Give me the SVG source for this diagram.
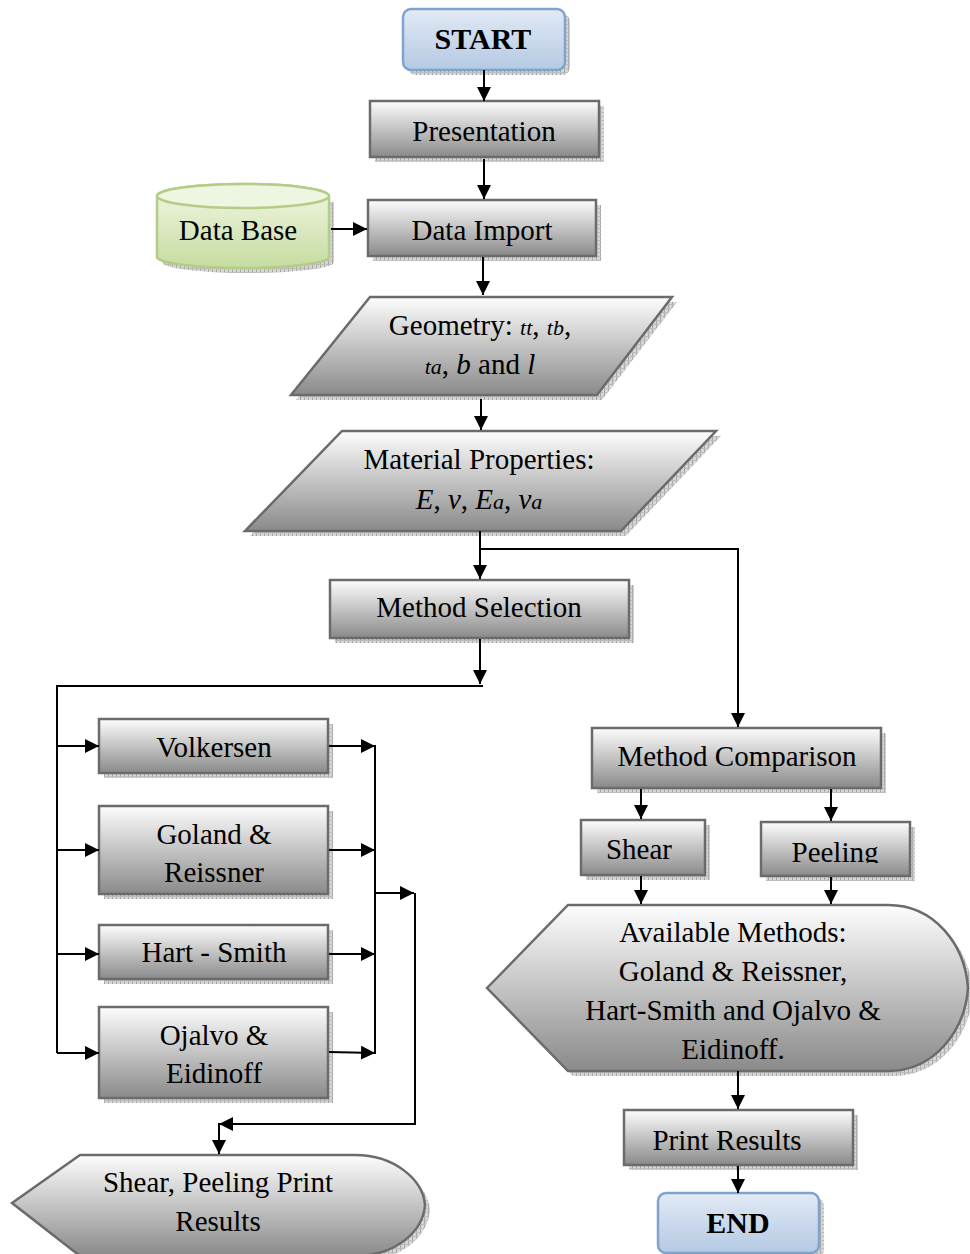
<svg xmlns="http://www.w3.org/2000/svg" width="970" height="1254" viewBox="0 0 970 1254">
<defs>
<linearGradient id="gGray" x1="0" y1="0" x2="0" y2="1">
<stop offset="0" stop-color="#fdfdfd"/><stop offset="1" stop-color="#8a8a8a"/>
</linearGradient>
<linearGradient id="gBlue" x1="0" y1="0" x2="0" y2="1">
<stop offset="0" stop-color="#e2eaf5"/><stop offset="1" stop-color="#b4c9e3"/>
</linearGradient>
<linearGradient id="gGreen" x1="0" y1="0" x2="0" y2="1">
<stop offset="0" stop-color="#f2f7e6"/><stop offset="1" stop-color="#c6dca0"/>
</linearGradient>
<pattern id="hatch" width="4" height="4" patternUnits="userSpaceOnUse">
<rect width="4" height="4" fill="#d6d6d6"/><rect width="1" height="4" fill="#a8a8a8"/><rect width="4" height="1" fill="#bdbdbd"/>
</pattern>
<marker id="ah" markerWidth="14" markerHeight="14" refX="14" refY="7" orient="auto" markerUnits="userSpaceOnUse">
<path d="M0,0 L14,7 L0,14 Z" fill="#000"/>
</marker>
<clipPath id="clipPeel"><rect x="761" y="822" width="150" height="41"/></clipPath>
</defs>
<style>
.box{fill:url(#gGray);stroke:#6b6b6b;stroke-width:2.5}
.term{fill:url(#gBlue);stroke:#7fa3cf;stroke-width:2.5}
.shd{fill:url(#hatch);stroke:none}
.t{font-family:"Liberation Serif","Times New Roman",serif;font-size:29px;fill:#000;text-anchor:middle}
.b{font-weight:bold;font-size:30px}
.i{font-style:italic}
.s{font-size:22px}
.c{fill:none;stroke:#000;stroke-width:2}
.a{marker-end:url(#ah)}
</style>

<g id="start">
<rect class="shd" x="408" y="14" width="162" height="61" rx="8"/>
<rect class="term" x="403" y="9" width="162" height="61" rx="8"/>
<text class="t b" x="483" y="49">START</text>
</g>

<g id="presentation">
<rect class="shd" x="375" y="106" width="229" height="56"/>
<rect class="box" x="370" y="101" width="229" height="56"/>
<text class="t" x="484" y="141">Presentation</text>
</g>

<g id="database">
<path class="shd" d="M162,202 L334,202 L334,262 A86,11 0 0 1 162,262 Z"/>
<path d="M157,196 A86,12 0 0 1 329,196 L329,257 A86,11 0 0 1 157,257 Z" fill="url(#gGreen)" stroke="#b5cc86" stroke-width="2.5"/>
<ellipse cx="243" cy="196" rx="86" ry="12" fill="#eef5e0" stroke="#b5cc86" stroke-width="2.5"/>
<text class="t" x="238" y="240">Data Base</text>
</g>

<g id="dataimport">
<rect class="shd" x="373" y="205" width="228" height="56"/>
<rect class="box" x="368" y="200" width="228" height="56"/>
<text class="t" x="482" y="240">Data Import</text>
</g>

<g id="geometry">
<path class="shd" d="M375,302 L677,302 L602,400 L296,400 Z"/>
<path class="box" d="M370,297 L672,297 L597,395 L291,395 Z"/>
<text class="t" x="480" y="335">Geometry: <tspan class="i s">tt</tspan>, <tspan class="i s">tb</tspan>,</text>
<text class="t" x="480" y="374"><tspan class="i s">ta</tspan>, <tspan class="i">b</tspan> and <tspan class="i">l</tspan></text>
</g>

<g id="material">
<path class="shd" d="M347,436 L721,436 L626,536 L250,536 Z"/>
<path class="box" d="M342,431 L716,431 L621,531 L245,531 Z"/>
<text class="t" x="479" y="469">Material Properties:</text>
<text class="t" x="479" y="509"><tspan class="i">E</tspan>, <tspan class="i">v</tspan>, <tspan class="i">E</tspan><tspan class="i s">a</tspan>, <tspan class="i">v</tspan><tspan class="i s">a</tspan></text>
</g>

<g id="methodselection">
<rect class="shd" x="335" y="585" width="299" height="58"/>
<rect class="box" x="330" y="580" width="299" height="58"/>
<text class="t" x="479" y="617">Method Selection</text>
</g>

<g id="volkersen">
<rect class="shd" x="104" y="724" width="229" height="54"/>
<rect class="box" x="99" y="719" width="229" height="54"/>
<text class="t" x="214" y="757">Volkersen</text>
</g>

<g id="goland">
<rect class="shd" x="104" y="811" width="229" height="88"/>
<rect class="box" x="99" y="806" width="229" height="88"/>
<text class="t" x="214" y="844">Goland &amp;</text>
<text class="t" x="214" y="882">Reissner</text>
</g>

<g id="hartsmith">
<rect class="shd" x="104" y="930" width="229" height="54"/>
<rect class="box" x="99" y="925" width="229" height="54"/>
<text class="t" x="214" y="962">Hart - Smith</text>
</g>

<g id="ojalvo">
<rect class="shd" x="104" y="1012" width="229" height="91"/>
<rect class="box" x="99" y="1007" width="229" height="91"/>
<text class="t" x="214" y="1045">Ojalvo &amp;</text>
<text class="t" x="214" y="1083">Eidinoff</text>
</g>

<g id="shearpeelingprint">
<path class="shd" d="M17,1208 L85,1160 L360,1160 C400,1160 428,1185 430,1210 C428,1237 400,1261 360,1261 L85,1261 Z"/>
<path class="box" d="M12,1203 L80,1155 L355,1155 C395,1155 423,1180 425,1205 C423,1232 395,1256 355,1256 L80,1256 Z"/>
<text class="t" x="218" y="1192">Shear, Peeling Print</text>
<text class="t" x="218" y="1231">Results</text>
</g>

<g id="methodcomparison">
<rect class="shd" x="597" y="733" width="289" height="60"/>
<rect class="box" x="592" y="728" width="289" height="60"/>
<text class="t" x="737" y="766">Method Comparison</text>
</g>

<g id="shear">
<rect class="shd" x="586" y="825" width="124" height="55"/>
<rect class="box" x="581" y="820" width="124" height="55"/>
<text class="t" x="639" y="859">Shear</text>
</g>

<g id="peeling">
<rect class="shd" x="766" y="827" width="149" height="54"/>
<rect class="box" x="761" y="822" width="149" height="54"/>
<text class="t" x="835" y="862" clip-path="url(#clipPeel)">Peeling</text>
</g>

<g id="availablemethods">
<path class="shd" d="M492,993 L573,910 L893,910 C940,910 970,950 973,993 C970,1035 940,1076 893,1076 L573,1076 Z"/>
<path class="box" d="M487,988 L568,905 L888,905 C935,905 965,945 968,988 C965,1030 935,1071 888,1071 L568,1071 Z"/>
<text class="t" x="733" y="942">Available Methods:</text>
<text class="t" x="733" y="981">Goland &amp; Reissner,</text>
<text class="t" x="733" y="1020">Hart-Smith and Ojalvo &amp;</text>
<text class="t" x="733" y="1059">Eidinoff.</text>
</g>

<g id="printresults">
<rect class="shd" x="629" y="1115" width="229" height="55"/>
<rect class="box" x="624" y="1110" width="229" height="55"/>
<text class="t" x="727" y="1150">Print Results</text>
</g>

<g id="end">
<rect class="shd" x="663" y="1198" width="161" height="60" rx="8"/>
<rect class="term" x="658" y="1193" width="161" height="60" rx="8"/>
<text class="t b" x="738" y="1233">END</text>
</g>

<g id="connectors">
<path class="c a" d="M484,70 L484,101"/>
<path class="c a" d="M484,159 L484,199"/>
<path class="c a" d="M331,229 L367,229"/>
<path class="c a" d="M483,257 L483,295"/>
<path class="c a" d="M481,399 L481,430"/>
<path class="c a" d="M480,531 L480,579"/>
<path class="c a" d="M480,549 L738,549 L738,727"/>
<path class="c a" d="M480,639 L480,684"/>
<path class="c" d="M483,686 L57,686 L57,1053"/>
<path class="c a" d="M57,746 L99,746"/>
<path class="c a" d="M57,850 L99,850"/>
<path class="c a" d="M57,954 L99,954"/>
<path class="c a" d="M57,1053 L99,1053"/>
<path class="c a" d="M329,746 L375,746"/>
<path class="c a" d="M329,850 L375,850"/>
<path class="c a" d="M329,954 L375,954"/>
<path class="c a" d="M329,1052 L375,1053"/>
<path class="c" d="M375,745 L375,1054"/>
<path class="c a" d="M375,893 L414,893"/>
<path class="c a" d="M415,893 L415,1124 L219,1124"/>
<path class="c a" d="M219,1123 L219,1154"/>
<path class="c a" d="M641,789 L641,819"/>
<path class="c a" d="M831,789 L831,821"/>
<path class="c a" d="M641,876 L641,904"/>
<path class="c a" d="M831,877 L831,904"/>
<path class="c a" d="M738,1071 L738,1109"/>
<path class="c a" d="M738,1166 L738,1193"/>
</g>
</svg>
